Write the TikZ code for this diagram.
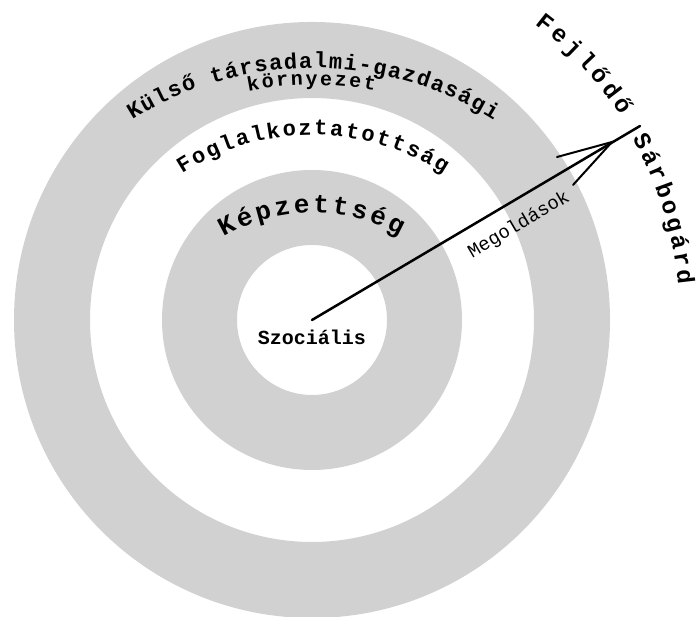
\documentclass[tikz,border=0pt]{standalone}
\usepackage{fontspec}
\setmonofont{Liberation Mono}
\usetikzlibrary{positioning, calc, decorations.text}

\newcommand{\ringfont}{\ttfamily\bfseries\fontsize{22}{22}\selectfont}
\newcommand{\smallringfont}{\ttfamily\bfseries\fontsize{20}{20}\selectfont}
\newcommand{\innerfont}{\ttfamily\bfseries\fontsize{26}{26}\selectfont}
\newcommand{\placefont}{\ttfamily\bfseries\fontsize{24}{24}\selectfont}

\begin{document}
\begin{tikzpicture}[x=1pt, y=1pt,
    ring/.style={fill=black!18, even odd rule},
    arctext/.style={decorate, decoration={text along path, text align={fit to path}, text={#1}}},
    shaft/.style={line width=2.5pt, line cap=round},
    barb/.style={line width=2pt, line cap=round},
    centrelabel/.style={font=\ttfamily\bfseries\fontsize{20}{20}\selectfont, inner sep=0pt},
    pathlabel/.style={font=\ttfamily\fontsize{19}{19}\selectfont, inner sep=0pt}
]
\useasboundingbox (0,0) rectangle (698,617);

% Rings
\coordinate (centre) at (312,297);
\fill[ring] (centre) circle[radius=298] circle[radius=222];
\fill[ring] (centre) circle[radius=150] circle[radius=75];

% Ring texts
\coordinate (outerarc) at (313,208);
\coordinate (middlearc) at (313,242);
\coordinate (innerarc) at (313,225);
\path[arctext={|\ringfont|Külső társadalmi-gazdasági}] ($(outerarc)+(122:341)$) arc[start angle=122, end angle=58, radius=341];
\path[arctext={|\smallringfont|környezet}] ($(outerarc)+(101.5:324)$) arc[start angle=101.5, end angle=79, radius=324];
\path[arctext={|\ringfont|Foglalkoztatottság}] ($(middlearc)+(123:240)$) arc[start angle=123, end angle=57, radius=240];
\path[arctext={|\innerfont|Képzettség}] ($(innerarc)+(120:179)$) arc[start angle=120, end angle=61, radius=179];
\node[centrelabel] (social) at (312,280) {Szociális};

% Arrow
\coordinate (goal) at (640,491);
\coordinate (meet) at (612,475);
\coordinate (barbup) at (557,460);
\coordinate (barbdown) at (573,432);
\draw[shaft] (centre) -- (goal);
\draw[barb] (barbup) -- (meet) -- (barbdown);
\node[pathlabel, rotate=30.5] (solutions) at (519,392) {Megoldások};

% Goal text
\path[arctext={|\placefont|Fejlődő}] ($(centre)+(53:370)$) arc[start angle=53, end angle=33.5, radius=370];
\path[arctext={|\placefont|Sárbogárd}] ($(centre)+(29.5:368)$) arc[start angle=29.5, end angle=5.5, radius=368];

\end{tikzpicture}
\end{document}
